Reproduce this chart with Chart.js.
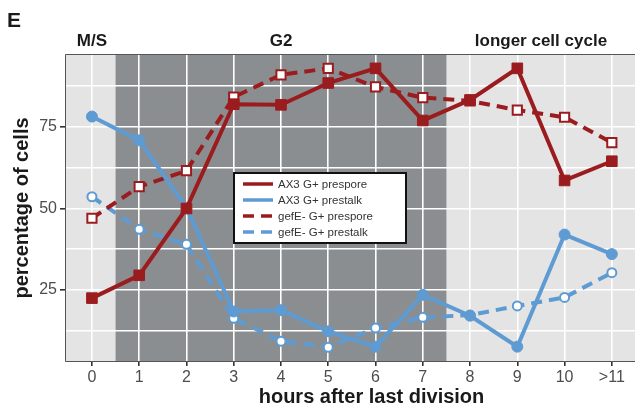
<!DOCTYPE html>
<html>
<head>
<meta charset="utf-8">
<script src="https://cdn.jsdelivr.net/npm/chart.js@4.4.1/dist/chart.umd.min.js"></script>
<style>
  html, body { margin: 0; padding: 0; background: #fff; overflow: hidden; }
  /* el panel sigue más allá del borde derecho: el lienzo es más ancho y se recorta */
  #wrap { width: 635px; height: 409px; overflow: hidden; }
</style>
</head>
<body>
<div id="wrap"><canvas id="cellChart" width="678" height="409"></canvas></div>
<script>
// --- DATOS ---
const hours = ['0', '1', '2', '3', '4', '5', '6', '7', '8', '9', '10', '>11'];
const ax3Prespore = [22.5, 29.5, 50, 82, 81.8, 88.5, 93, 77, 83.3, 93, 58.6, 64.5];
const ax3Prestalk = [78.2, 70.9, 50.2, 18.4, 18.8, 12.3, 7.6, 23.5, 17.1, 7.6, 42, 36];
const gefePrespore = [47, 56.7, 61.6, 84.2, 91, 93, 87.3, 84, 83, 80.2, 78, 70.2];
const gefePrestalk = [53.6, 43.6, 39, 16.3, 9.3, 7.4, 13.3, 16.6, 17.3, 20.1, 22.7, 30.3];
const yTicks = [12.5, 25, 37.5, 50, 62.5, 75, 87.5];
const phases = [{ text: 'M/S', at: 0 }, { text: 'G2', at: 4 }, { text: 'longer cell cycle', at: 9.5 }];
const g2Band = [0.5, 7.5];

const RED = '#9b1c1f';
const BLUE = '#5e9bd2';
const FONT = '"Liberation Sans", Arial, Helvetica, sans-serif';

const pts = (vals) => vals.map((v, i) => ({ x: i, y: v }));

// --- PLUGINS ---
const panel = {
  id: 'panel',
  beforeDraw(chart) {
    const { ctx, chartArea: a, scales: { x } } = chart;
    ctx.save();
    ctx.fillStyle = '#e4e4e4';
    ctx.fillRect(a.left, a.top, a.right - a.left, a.bottom - a.top);
    const x0 = x.getPixelForValue(g2Band[0]);
    const x1 = x.getPixelForValue(g2Band[1]);
    ctx.fillStyle = '#8b8e91';
    ctx.fillRect(x0, a.top, x1 - x0, a.bottom - a.top);
    ctx.restore();
  },
  afterDraw(chart) {
    const { ctx, chartArea: a, scales: { x } } = chart;
    ctx.save();
    // borde del panel
    ctx.strokeStyle = '#555';
    ctx.lineWidth = 1;
    ctx.beginPath();
    ctx.moveTo(a.right, a.top + 0.5);
    ctx.lineTo(a.left + 0.5, a.top + 0.5);
    ctx.lineTo(a.left + 0.5, a.bottom - 0.5);
    ctx.lineTo(a.right, a.bottom - 0.5);
    ctx.stroke();

    // fases arriba
    ctx.fillStyle = '#1a1a1a';
    ctx.font = 'bold 17px ' + FONT;
    ctx.textAlign = 'center';
    ctx.textBaseline = 'alphabetic';
    phases.forEach(p => ctx.fillText(p.text, x.getPixelForValue(p.at), 46));

    // letra del panel
    ctx.textAlign = 'left';
    ctx.font = 'bold 21px ' + FONT;
    ctx.fillText('E', 7, 27);
    ctx.restore();
  }
};

const boxLegend = {
  id: 'boxLegend',
  afterDatasetsDraw(chart) {
    const { ctx } = chart;
    const left = 233, top = 172, w = 174, h = 72;
    ctx.save();
    ctx.fillStyle = '#fff';
    ctx.fillRect(left, top, w, h);
    ctx.strokeStyle = '#111';
    ctx.lineWidth = 2;
    ctx.strokeRect(left + 1, top + 1, w - 2, h - 2);

    ctx.font = '11.5px ' + FONT;
    ctx.textBaseline = 'middle';
    chart.data.datasets.forEach((ds, i) => {
      const y = top + 12 + i * 16;
      ctx.strokeStyle = ds.borderColor;
      ctx.lineWidth = 3.5;
      ctx.setLineDash(ds.borderDash || []);
      ctx.beginPath();
      ctx.moveTo(left + 10, y);
      ctx.lineTo(left + 40, y);
      ctx.stroke();
      ctx.setLineDash([]);
      ctx.fillStyle = '#333';
      ctx.fillText(ds.label, left + 45, y + 1);
    });
    ctx.restore();
  }
};

// --- GRÁFICA ---
const line = (label, data, color, dashed, style) => ({
  label,
  data: pts(data),
  borderColor: color,
  borderWidth: 4,
  borderDash: dashed ? [11, 7] : undefined,
  pointStyle: style,
  pointRadius: dashed ? (style === 'rect' ? 6.5 : 4.5) : (style === 'rect' ? 7.5 : 5.5),
  pointBorderWidth: dashed ? 2 : 1,
  pointBackgroundColor: dashed ? '#fff' : color,
  pointBorderColor: color,
  tension: 0
});

new Chart(document.getElementById('cellChart'), {
  type: 'line',
  data: {
    datasets: [
      line('AX3 G+ prespore', ax3Prespore, RED, false, 'rect'),
      line('AX3 G+ prestalk', ax3Prestalk, BLUE, false, 'circle'),
      line('gefE- G+ prespore', gefePrespore, RED, true, 'rect'),
      line('gefE- G+ prestalk', gefePrestalk, BLUE, true, 'circle')
    ]
  },
  options: {
    responsive: false,
    animation: false,
    devicePixelRatio: 1,
    layout: { autoPadding: false, padding: { top: 54, right: 0, left: 0, bottom: 0 } },
    plugins: { legend: { display: false }, tooltip: { enabled: false } },
    scales: {
      x: {
        type: 'linear',
        min: -0.57,
        max: 12.4,
        afterBuildTicks: (s) => { s.ticks = hours.map((h, i) => ({ value: i })); },
        afterFit: (s) => { s.height = 47; s.paddingLeft = 0; s.paddingRight = 0; },
        ticks: {
          callback: (v) => hours[v],
          color: '#4d4d4d',
          font: { family: FONT, size: 16 },
          padding: 2,
          maxRotation: 0
        },
        grid: { color: '#fff', lineWidth: 1.6, tickColor: '#333', tickLength: 4 },
        border: { display: false },
        title: {
          display: true,
          text: 'hours after last division',
          color: '#1a1a1a',
          font: { family: FONT, size: 20, weight: 'bold' },
          padding: { top: 0, bottom: 0 }
        }
      },
      y: {
        min: 2.9,
        max: 97.4,
        afterBuildTicks: (s) => { s.ticks = yTicks.map(v => ({ value: v })); },
        afterFit: (s) => { s.width = 65; s.paddingTop = 0; s.paddingBottom = 0; },
        ticks: {
          callback: (v) => (v % 25 === 0 ? String(v) : ''),
          color: '#4d4d4d',
          font: { family: FONT, size: 16 },
          padding: 3
        },
        grid: {
          color: '#fff',
          lineWidth: 1.6,
          tickLength: 5,
          tickColor: (c) => (c.tick && c.tick.value % 25 === 0 ? '#333' : 'rgba(0,0,0,0)')
        },
        border: { display: false },
        title: {
          display: true,
          text: 'percentage of cells',
          color: '#1a1a1a',
          font: { family: FONT, size: 20, weight: 'bold' },
          padding: { top: 10, bottom: 0 }
        }
      }
    }
  },
  plugins: [panel, boxLegend]
});
</script>
</body>
</html>
